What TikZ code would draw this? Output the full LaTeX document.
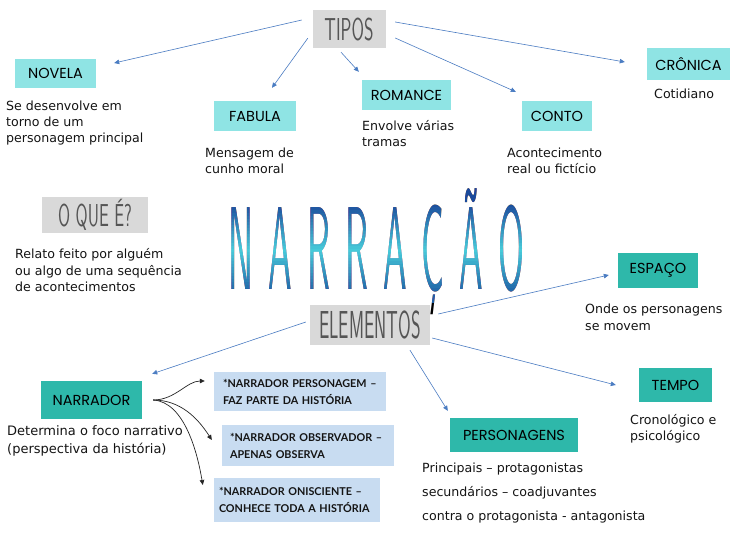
\documentclass[tikz,border=0pt]{standalone}
\usepackage{fontspec}
\setmainfont{DejaVu Sans}
\newfontfamily\boxfont{Poppins}
\newfontfamily\nbfont{Lato}
\newfontfamily\narrf{lmsans10-regular.otf}[FakeStretch=0.3]
\usetikzlibrary{arrows.meta}
\definecolor{lcyan}{HTML}{8FE4E4}
\definecolor{dteal}{HTML}{2EB8AA}
\definecolor{gbg}{HTML}{D9D9D9}
\definecolor{nbg}{HTML}{C8DCF1}
\definecolor{arrblue}{HTML}{4A7CC2}
\definecolor{txt}{HTML}{141414}
\definecolor{gtxt}{HTML}{555555}
\definecolor{nartop}{HTML}{1B4A9B}
\definecolor{narmid}{HTML}{48CCDA}
\definecolor{narbot}{HTML}{1F5FA5}
\newcommand\gtitle[3]{{\sffamily\fontsize{#2}{#2}\selectfont\scalebox{#1}[1]{#3}}}
\newcommand\narrword{N\kern15pt A\kern15pt R\kern15pt R\kern15pt A\kern15pt Ç\kern15pt Ã\kern15pt O}
\tikzset{
  narrfont/.style={font=\narrf\fontsize{118}{118}\selectfont, inner sep=0, anchor=base},
  lbox/.style={fill=lcyan, inner sep=0, text=black, font=\boxfont\fontsize{14.5}{14.5}\selectfont},
  dbox/.style={fill=dteal, inner sep=0, text=black, font=\boxfont\fontsize{14.5}{14.5}\selectfont},
  gbox/.style={fill=gbg, inner sep=0, text=gtxt},
  nbox/.style={fill=nbg, inner ysep=0, align=left, text=txt, font=\nbfont\bfseries\fontsize{10.8}{17}\selectfont},
  desc/.style={anchor=base west, align=left, inner sep=0, text=txt, font=\fontsize{12.6}{16}\selectfont},
  arr/.style={draw=arrblue, line width=0.6pt, -{Triangle[length=5pt,width=4.5pt]}},
  barr/.style={draw=black!85, line width=0.7pt, -{Triangle[length=5pt,width=4.5pt]}},
}
\begin{document}
\begin{tikzpicture}[x=1pt, y=-1pt]
\useasboundingbox[fill=white] (0,0) rectangle (750,541);

% title: black text, coloured bands laid over it with "lighten" blending
\node[narrfont, text=black] (narr) at (376.5,289) {\narrword};
\begin{scope}[blend mode=lighten]
\foreach \i in {0,...,40}{
  \pgfmathsetmacro\ya{180+3*\i}
  \pgfmathsetmacro\yb{\ya+3.4}
  \pgfmathsetmacro\ym{\ya+1.5}
  \pgfmathtruncatemacro\up{\ym<250 ? 1 : 0}
  \pgfmathtruncatemacro\qa{max(0,min(100,100*(\ym-203)/47))}
  \pgfmathtruncatemacro\qb{max(0,min(100,100*(294-\ym)/44))}
  \ifnum\up=1 \def\bandcol{narmid!\qa!nartop}\else\def\bandcol{narmid!\qb!narbot}\fi
  \fill[fill=\bandcol] (214,\ya) rectangle (539,\yb);
}
\end{scope}

% gray titles
\node[gbox, minimum width=73, minimum height=38] (tipos) at (349,29) {\gtitle{0.57}{31.7}{TIPOS}};
\node[gbox, minimum width=106, minimum height=36] (oque) at (95,215) {\gtitle{0.55}{31.7}{O QUE É?}};
\node[gbox, minimum width=120, minimum height=40] (elementos) at (370,325) {\gtitle{0.47}{39}{ELEMENTOS}};

% types
\node[lbox, minimum width=81, minimum height=29] (novela) at (55.5,73.5) {NOVELA};
\node[lbox, minimum width=82, minimum height=30] (fabula) at (255,116) {FABULA};
\node[lbox, minimum width=89, minimum height=30] (romance) at (406.5,95) {ROMANCE};
\node[lbox, minimum width=70, minimum height=30] (conto) at (557,116) {CONTO};
\node[lbox, minimum width=83, minimum height=32] (cronica) at (688.5,64) {CRÔNICA};

\node[desc] (dnovela) at (6,142) {Se desenvolve em\\torno de um\\personagem principal};
\node[desc] (dfabula) at (205,173.5) {Mensagem de\\cunho moral};
\node[desc] (dromance) at (362,146.5) {Envolve várias\\tramas};
\node[desc, font=\fontsize{12.6}{15.5}\selectfont] (dconto) at (507,173) {Acontecimento\\real ou fictício};
\node[desc] (dcronica) at (654,98.5) {Cotidiano};
\node[desc, font=\fontsize{12.6}{16.5}\selectfont] (doque) at (15,291.5) {Relato feito por alguém\\ou algo de uma sequência\\de acontecimentos};

% elements
\node[dbox, minimum width=80, minimum height=35] (espaco) at (658,270.5) {ESPAÇO};
\node[dbox, minimum width=73, minimum height=34] (tempo) at (675.5,385) {TEMPO};
\node[dbox, minimum width=128, minimum height=34] (personagens) at (514,435) {PERSONAGENS};
\node[dbox, minimum width=101, minimum height=38] (narrador) at (91.5,400) {NARRADOR};

\node[desc, font=\fontsize{12.6}{17}\selectfont] (despaco) at (585,330.5) {Onde os personagens\\se movem};
\node[desc] (dtempo) at (630,440.5) {Cronológico e\\psicológico};
\node[desc, font=\fontsize{12.6}{24}\selectfont] (dpers) at (422,520.5) {Principais – protagonistas\\secundários – coadjuvantes\\contra o protagonista - antagonista};
\node[desc, font=\fontsize{13}{18}\selectfont] (dnarrador) at (7,453.5) {Determina o foco narrativo\\(perspectiva da história)};

\node[nbox, inner xsep=9, text width=154, minimum height=39] (nb1) at (300,391.5) {*NARRADOR PERSONAGEM –\\FAZ PARTE DA HISTÓRIA};
\node[nbox, inner xsep=8, text width=156, minimum height=41] (nb2) at (308,445.5) {*NARRADOR OBSERVADOR –\\APENAS OBSERVA};
\node[nbox, inner xsep=5, text width=156, minimum height=44] (nb3) at (297,500) {*NARRADOR ONISCIENTE –\\CONHECE TODA A HISTÓRIA};

% blue arrows
\draw[arr] ([shift={(-10.5,-9)}]tipos.west) -- ([shift={(18,-10.5)}]novela.east);
\draw[arr] ([shift={(-4.5,-10)}]tipos.south west) -- ([shift={(17,-13)}]fabula.north);
\draw[arr] ([shift={(-8,4)}]tipos.south) -- ([shift={(-3,-8)}]romance.north west);
\draw[arr] ([shift={(9.5,9)}]tipos.east) -- ([shift={(-6,-9)}]conto.north west);
\draw[arr] ([shift={(9.5,-7)}]tipos.east) -- ([shift={(-22,-2)}]cronica.west);
\draw[arr] ([shift={(-4,-3)}]elementos.west) -- ([shift={(10,-7)}]narrador.north east);
\draw[arr] ([shift={(8,-11)}]elementos.east) -- ([shift={(-9,4.5)}]espaco.west);
\draw[arr] ([shift={(40,5)}]elementos.south) -- ([shift={(-2,-7)}]personagens.north west);
\draw[arr] ([shift={(2,13)}]elementos.east) -- ([shift={(-23,0)}]tempo.west);

% black curved arrows
\draw[barr] ([xshift=11]narrador.east) .. controls +(22,0) and +(-18,0) .. ([shift={(-9,-10.5)}]nb1.west);
\draw[barr] ([xshift=11]narrador.east) .. controls +(27,0) and +(-14,-22) .. ([shift={(-10,-5.5)}]nb2.west);
\draw[barr] ([xshift=11]narrador.east) .. controls +(32,2) and +(-5,-30) .. ([shift={(-11,-15)}]nb3.west);
\end{tikzpicture}
\end{document}
